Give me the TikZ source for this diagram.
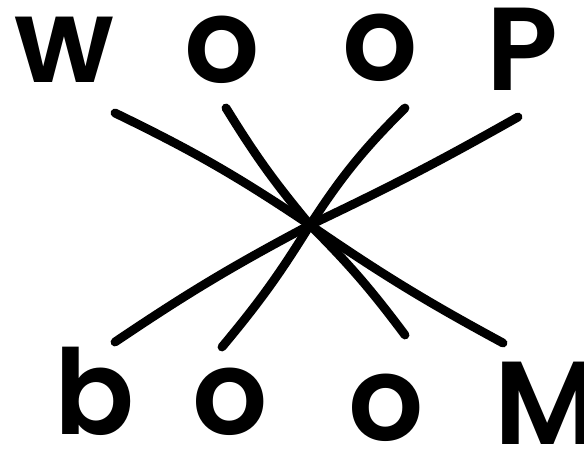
\documentclass[tikz,border=0pt]{standalone}
\usepackage{fontspec}
\newfontfamily\handfont{Poppins}[UprightFont=* SemiBold]

\begin{document}
\begin{tikzpicture}[x=0.25mm, y=-0.25mm,
    letter/.style={font=\handfont\fontsize{84}{84}\selectfont, anchor=base, inner sep=0pt},
    stroke/.style={line width=6.3pt, line cap=round}]
    % Fix the canvas
    \useasboundingbox (0,0) rectangle (584,459);

    % Top word
    \node[letter] (w1) at (64,82) {w};
    \node[letter] (o1) at (222,82) {o};
    \node[letter] (o2) at (380,80) {o};
    \node[letter] (p1) at (522,90) {P};

    % Bottom word
    \node[letter] (b1) at (95,434) {b};
    \node[letter] (o3) at (230,434) {o};
    \node[letter] (o4) at (386,440) {o};
    \node[letter] (m1) at (548,444) {M};

    % Define the crossing point and the free ends
    \coordinate (X) at (310,225);
    \coordinate (tw) at (115,113);
    \coordinate (to1) at (226,108);
    \coordinate (to2) at (405,108);
    \coordinate (tp) at (518,117);
    \coordinate (bb) at (115,342);
    \coordinate (bo3) at (222,347);
    \coordinate (bo4) at (405,335);
    \coordinate (bm) at (503,343);

    % Draw the strokes
    \draw[stroke] (tw) to[bend left=4] (X) to[bend right=3] (bm);
    \draw[stroke] (to1) to[bend right=4] (X) to[bend left=4] (bo4);
    \draw[stroke] (to2) to[bend right=6] (X) to[bend left=4] (bo3);
    \draw[stroke] (tp) to[bend left=2] (X) to[bend right=3] (bb);
\end{tikzpicture}
\end{document}
